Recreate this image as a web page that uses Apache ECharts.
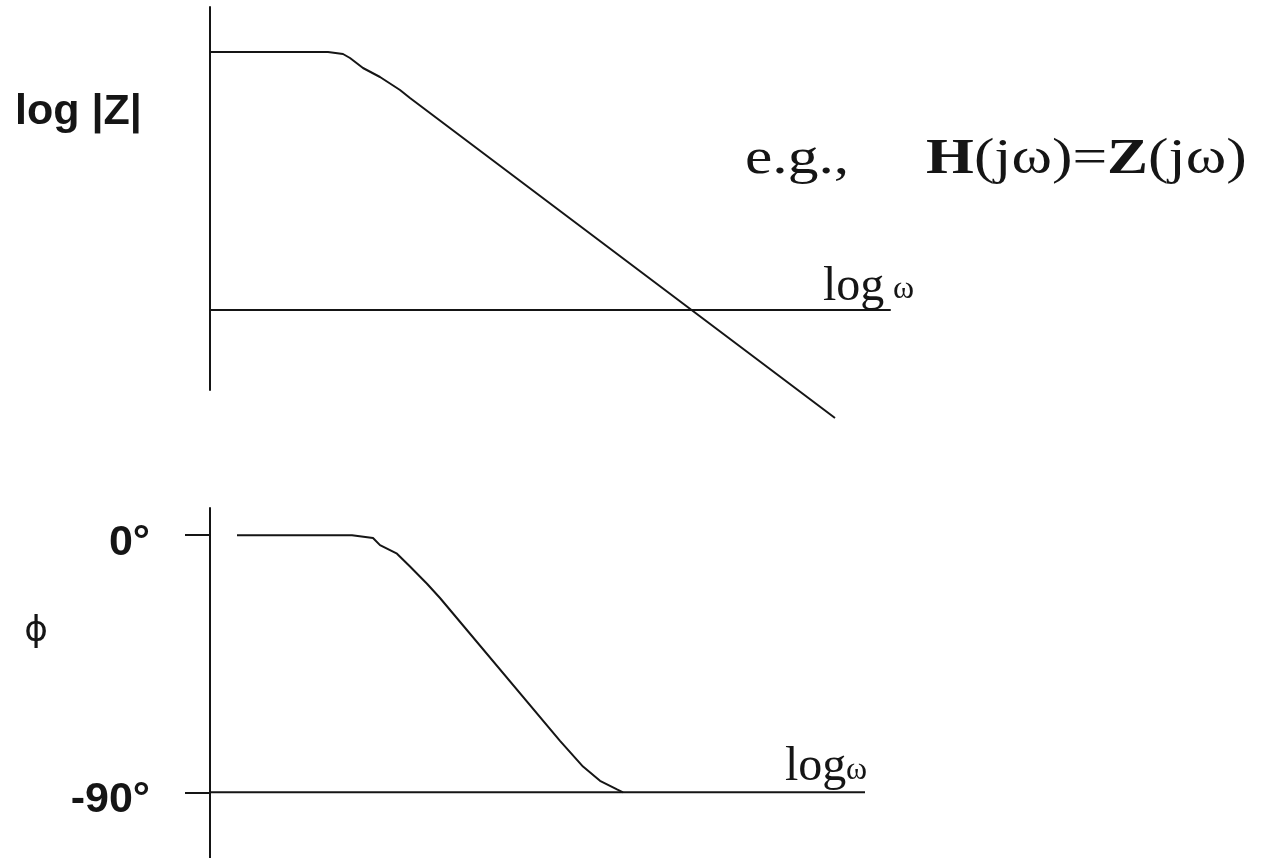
<!DOCTYPE html>
<html>
<head>
<meta charset="utf-8">
<title>Bode plot sketch</title>
<script src="https://cdn.jsdelivr.net/npm/echarts@6/dist/echarts.min.js"></script>
<style>
  html, body { margin: 0; padding: 0; background: #ffffff; }
  #chart { width: 1273px; height: 858px; }
</style>
</head>
<body>
<div id="chart"></div>
<script>
// Magnitude sketch: log|Z| versus log ω (flat, knee, then -1 slope)
const magX = [0, 1.18, 1.33, 1.40, 1.53, 1.70, 1.90, 2.00, 6.25];
const magY = [64.5, 64.5, 64, 63, 60.5, 58.25, 55, 53, -27];

// Phase sketch: φ versus log ω, from 0° down to -90°
const phaseX = [0.27, 1.42, 1.63, 1.70, 1.87, 2.00, 2.17, 2.30, 3.50, 3.73, 3.90, 4.07, 4.13];
const phaseY = [0, 0, -1, -3.5, -6.5, -11, -17, -22, -72, -81, -86, -89, -90];

// Horizontal reference line of the phase plot at -90°
const floorX = [0, 6.55];
const floorY = [-90, -90];

// Tick values on the phase axis
const phaseTicks = [0, -90];

// Text on the figure
const magAxisName = 'log |Z|';
const phaseAxisName = 'ϕ';
const freqLabel = 'log';
const omega = 'ω';

const INK = '#151515';
const SANS = '"Liberation Sans", Arial, sans-serif';
const SERIF = '"Liberation Serif", "Times New Roman", serif';
const zip = (xs, ys) => xs.map((x, i) => [x, ys[i]]);

const chart = echarts.init(document.getElementById('chart'));

const lineSeries = (data, axisIdx) => ({
  type: 'line',
  xAxisIndex: axisIdx,
  yAxisIndex: axisIdx,
  data: data,
  showSymbol: false,
  symbol: 'none',
  clip: false,
  silent: true,
  lineStyle: { color: INK, width: 2 },
  z: 3
});

const serifText = (text, x, y, size) => ({
  type: 'text',
  x: x,
  y: y,
  silent: true,
  style: {
    text: text,
    fill: INK,
    font: size + 'px ' + SERIF,
    verticalAlign: 'middle',
    align: 'left'
  }
});

chart.setOption({
  animation: false,
  backgroundColor: '#ffffff',
  grid: [
    { left: 210, top: 7, width: 680, height: 383 },
    { left: 210, top: 508, width: 655, height: 350 }
  ],
  xAxis: [
    {
      gridIndex: 0, type: 'value', min: 0, max: 6.8,
      axisLine: { show: true, onZero: true, lineStyle: { color: INK, width: 2 } },
      axisTick: { show: false }, axisLabel: { show: false }, splitLine: { show: false }
    },
    {
      gridIndex: 1, type: 'value', min: 0, max: 6.55,
      axisLine: { show: false }, axisTick: { show: false },
      axisLabel: { show: false }, splitLine: { show: false }
    }
  ],
  yAxis: [
    {
      gridIndex: 0, type: 'value', min: -20, max: 75.75,
      axisLine: { show: true, lineStyle: { color: INK, width: 2 } },
      axisTick: { show: false }, axisLabel: { show: false }, splitLine: { show: false }
    },
    {
      gridIndex: 1, type: 'value', min: -113, max: 9.5,
      axisLine: { show: true, lineStyle: { color: INK, width: 2 } },
      axisTick: {
        show: true, inside: false, length: 25, customValues: phaseTicks,
        lineStyle: { color: INK, width: 2 }
      },
      axisLabel: {
        show: true, customValues: phaseTicks, margin: 60,
        formatter: v => '{t|' + v + '°}',
        color: INK,
        verticalAlign: 'middle',
        rich: {
          t: {
            fontSize: 43, fontWeight: 'bold', fontFamily: SANS, color: INK,
            padding: [16, 0, 0, 0]
          }
        }
      },
      splitLine: { show: false }
    }
  ],
  series: [
    lineSeries(zip(magX, magY), 0),
    lineSeries(zip(phaseX, phaseY), 1),
    lineSeries(zip(floorX, floorY), 1)
  ],
  graphic: [
    {
      type: 'text', x: 15, y: 112, silent: true,
      style: {
        text: magAxisName, fill: INK,
        font: 'bold 43px ' + SANS,
        verticalAlign: 'middle', align: 'left'
      }
    },
    {
      type: 'text', x: 36, y: 632, silent: true,
      style: {
        text: phaseAxisName, fill: INK,
        font: '36px "DejaVu Sans", sans-serif',
        verticalAlign: 'middle', align: 'center'
      }
    },
    {
      type: 'text', x: 745, y: 160, scaleX: 1.23, silent: true,
      style: {
        text: '{n|e.g.,     }{b|H}{n|(jω)=}{b|Z}{n|(jω)}',
        fill: INK,
        verticalAlign: 'middle', align: 'left',
        rich: {
          n: { fontFamily: SERIF, fontSize: 50, color: INK },
          b: { fontFamily: SERIF, fontSize: 50, fontWeight: 'bold', color: INK }
        }
      }
    },
    serifText(freqLabel, 823, 287, 48),
    serifText(omega, 893, 290, 32),
    serifText(freqLabel, 785, 767, 48),
    serifText(omega, 846, 771, 32)
  ]
});
</script>
</body>
</html>
